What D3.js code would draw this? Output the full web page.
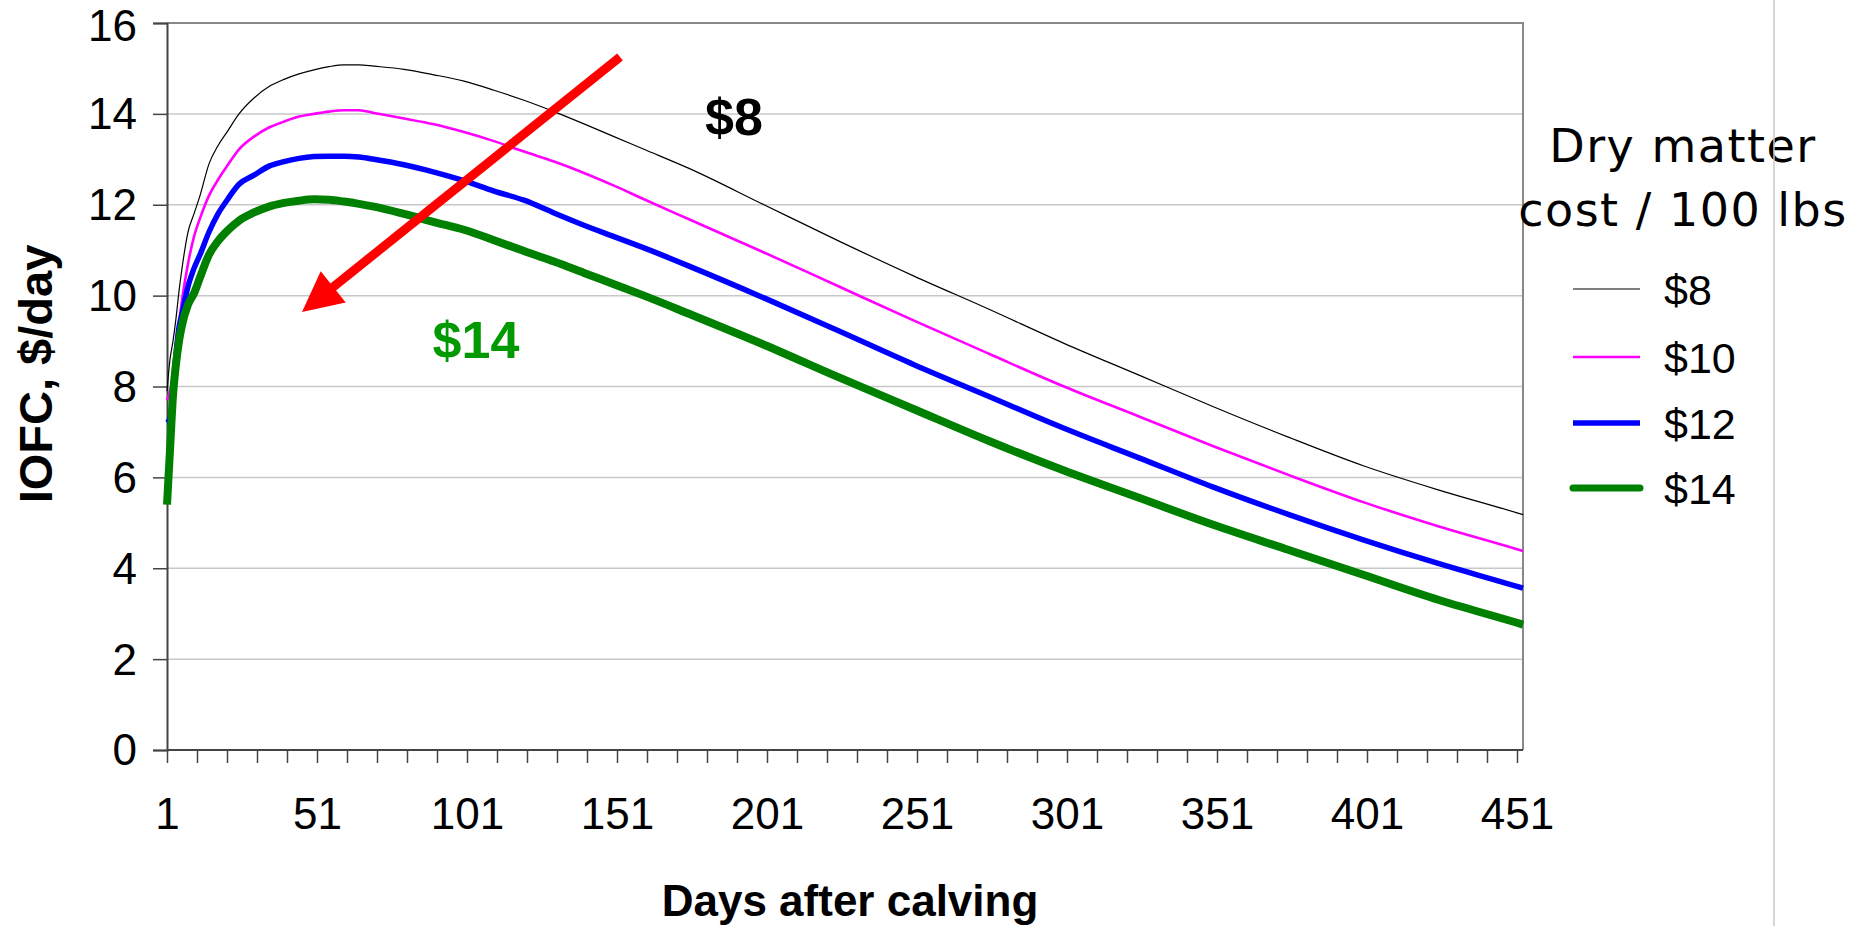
<!DOCTYPE html>
<html>
<head>
<meta charset="utf-8">
<title>IOFC by dry matter cost</title>
<script src="https://cdn.jsdelivr.net/npm/d3@7"></script>
<style>
  html, body { margin: 0; padding: 0; background: #fff; }
  svg { display: block; }
</style>
</head>
<body>
<svg id="chart" width="1852" height="926"></svg>
<script>
const days = [1, 2, 3, 4, 5, 6, 8, 10, 12, 15, 18, 21, 25, 30, 35, 40, 45, 50, 55, 60, 65, 70, 80, 90,
  100, 110, 120, 130, 140, 150, 160, 175, 200, 225, 250, 275, 300, 325, 350, 375, 400, 425, 451, 453];

// IOFC, $/day for each dry matter cost
const iofc8 = [7.9, 8.6, 9.0, 9.5, 10.1, 10.6, 11.4, 11.8, 12.2, 12.9, 13.3, 13.6, 14.0, 14.35, 14.6, 14.76, 14.88, 14.97, 15.04, 15.08, 15.08, 15.05, 14.98, 14.86,
  14.72, 14.52, 14.3, 14.05, 13.78, 13.5, 13.22, 12.8, 12.0, 11.2, 10.43, 9.7, 8.95, 8.25, 7.55, 6.88, 6.25, 5.72, 5.22, 5.18];
const iofc10 = [7.7, 7.9, 8.2, 8.9, 9.4, 9.9, 10.7, 11.3, 11.7, 12.2, 12.55, 12.85, 13.22, 13.5, 13.7, 13.83, 13.94, 14.0, 14.05, 14.08, 14.08, 14.02, 13.9, 13.77,
  13.6, 13.4, 13.17, 12.95, 12.7, 12.42, 12.12, 11.68, 10.95, 10.2, 9.45, 8.72, 8.0, 7.34, 6.68, 6.05, 5.45, 4.92, 4.42, 4.38];
const iofc12 = [7.2, 7.3, 7.8, 8.7, 9.3, 9.6, 10.2, 10.6, 10.9, 11.4, 11.8, 12.1, 12.45, 12.65, 12.85, 12.95, 13.02, 13.06, 13.07, 13.07, 13.05, 13.0, 12.88, 12.72,
  12.53, 12.3, 12.1, 11.82, 11.55, 11.3, 11.05, 10.65, 9.95, 9.22, 8.48, 7.78, 7.08, 6.43, 5.78, 5.18, 4.62, 4.1, 3.6, 3.56];
const iofc14 = [5.4, 6.6, 7.8, 8.5, 9.0, 9.35, 9.8, 10.05, 10.4, 10.9, 11.2, 11.42, 11.65, 11.83, 11.96, 12.04, 12.09, 12.12, 12.11, 12.07, 12.02, 11.96, 11.8, 11.62,
  11.45, 11.22, 10.98, 10.75, 10.5, 10.25, 10.0, 9.6, 8.92, 8.2, 7.5, 6.8, 6.15, 5.55, 4.95, 4.4, 3.85, 3.3, 2.8, 2.76];

const seriesNames = ["$8", "$10", "$12", "$14"];
const yTicks = [0, 2, 4, 6, 8, 10, 12, 14, 16];
const xLabels = [1, 51, 101, 151, 201, 251, 301, 351, 401, 451];
const xMinorTicks = d3.range(1, 452, 10);

const colors = ["#000000", "#ff00ff", "#0000ff", "#008000"];
const widths = [1.2, 2.6, 5.5, 8];

const svg = d3.select("#chart");
const font = "'Liberation Sans', Arial, sans-serif";

// plot frame
const plotLeft = 167, plotRight = 1523, plotTop = 23, plotBottom = 750;

let x = d3.scaleLinear().domain([1, 453]).range([plotLeft, plotRight]);
let y = d3.scaleLinear().domain([0, 16]).range([plotBottom, plotTop]);

// gridlines
svg.append("g")
    .selectAll("line")
    .data(yTicks.filter(d => d > 0 && d < 16))
    .enter().append("line")
    .attr("x1", plotLeft).attr("x2", plotRight)
    .attr("y1", d => y(d)).attr("y2", d => y(d))
    .attr("stroke", "#c8c8c8")
    .attr("stroke-width", 1.5);

// top and right border
svg.append("path")
    .attr("d", `M${plotLeft},${y(16)}H${plotRight}V${plotBottom}`)
    .attr("fill", "none")
    .attr("stroke", "#888")
    .attr("stroke-width", 2);

// y axis
let yAxis = d3.axisLeft(y).tickValues(yTicks).tickSize(14).tickPadding(16);
let gy = svg.append("g").attr("transform", `translate(${plotLeft},0)`).call(yAxis);
gy.select(".domain").attr("stroke", "#444").attr("stroke-width", 2);
gy.selectAll(".tick line").attr("stroke", "#444").attr("stroke-width", 1.5);
gy.selectAll(".tick text")
    .attr("font-family", font).attr("font-size", 44).attr("fill", "#000")
    .attr("dy", d => d == 16 ? "0.4em" : "0.34em");

// x axis: minor ticks every 10 days, labels every 50
let xAxis = d3.axisBottom(x).tickValues(xMinorTicks).tickSize(13)
    .tickFormat(d => xLabels.includes(d) ? d : "").tickPadding(35);
let gx = svg.append("g").attr("transform", `translate(0,${plotBottom})`).call(xAxis);
gx.select(".domain").attr("d", `M${plotLeft},0H${plotRight}`).attr("stroke", "#444").attr("stroke-width", 2);
gx.selectAll(".tick line").attr("stroke", "#444").attr("stroke-width", 1.5);
gx.selectAll(".tick text")
    .attr("font-family", font).attr("font-size", 44).attr("fill", "#000");

// axis titles
svg.append("text")
    .attr("transform", "translate(52,374) rotate(-90)")
    .attr("text-anchor", "middle")
    .attr("font-family", font).attr("font-weight", "bold").attr("font-size", 47)
    .text("IOFC, $/day");

svg.append("text")
    .attr("x", 850).attr("y", 916)
    .attr("text-anchor", "middle")
    .attr("font-family", font).attr("font-weight", "bold").attr("font-size", 44)
    .text("Days after calving");

// curves
const allSeries = [iofc8, iofc10, iofc12, iofc14];
let line = d3.line()
    .x((d, i) => x(days[i]))
    .y(d => y(d))
    .curve(d3.curveMonotoneX);

svg.append("g")
    .selectAll("path")
    .data(allSeries)
    .enter().append("path")
    .attr("d", d => line(d))
    .attr("fill", "none")
    .attr("stroke", (d, i) => colors[i])
    .attr("stroke-width", (d, i) => widths[i])
    .attr("stroke-linejoin", "round");

// red arrow from $8 toward $14, in data units
const arrowFrom = [152, 15.25], arrowTo = [46, 9.64];
let x0 = x(arrowFrom[0]), y0 = y(arrowFrom[1]);
let x1 = x(arrowTo[0]), y1 = y(arrowTo[1]);
let len = Math.hypot(x1 - x0, y1 - y0);
let ux = (x1 - x0) / len, uy = (y1 - y0) / len;
let headLen = 40, headHalf = 20;
let bx = x1 - ux * headLen, by = y1 - uy * headLen;
svg.append("line")
    .attr("x1", x0).attr("y1", y0)
    .attr("x2", bx + ux * 4).attr("y2", by + uy * 4)
    .attr("stroke", "#ff0000")
    .attr("stroke-width", 9);
svg.append("path")
    .attr("d", `M${x1},${y1}L${bx - uy * headHalf},${by + ux * headHalf}L${bx + uy * headHalf},${by - ux * headHalf}Z`)
    .attr("fill", "#ff0000");

// annotations
svg.append("text")
    .attr("x", x(190)).attr("y", y(13.53))
    .attr("text-anchor", "middle")
    .attr("font-family", font).attr("font-weight", "bold").attr("font-size", 52)
    .attr("fill", "#000")
    .text("$8");
svg.append("text")
    .attr("x", x(104)).attr("y", y(8.63))
    .attr("text-anchor", "middle")
    .attr("font-family", font).attr("font-weight", "bold").attr("font-size", 52)
    .attr("fill", "#009900")
    .text("$14");

// legend
const legendFont = "'DejaVu Sans', Verdana, sans-serif";
svg.append("text")
    .attr("x", 1683).attr("y", 162)
    .attr("text-anchor", "middle")
    .attr("font-family", legendFont).attr("font-size", 46)
    .attr("letter-spacing", 1.5)
    .text("Dry matter");
svg.append("text")
    .attr("x", 1683).attr("y", 226)
    .attr("text-anchor", "middle")
    .attr("font-family", legendFont).attr("font-size", 46)
    .attr("letter-spacing", 1.5)
    .text("cost / 100 lbs");

const legendY = [289, 357, 423, 488];
let legend = svg.append("g")
    .selectAll("g")
    .data(seriesNames)
    .enter().append("g")
    .attr("transform", (d, i) => `translate(0,${legendY[i]})`);
legend.append("line")
    .attr("x1", 1573).attr("x2", 1640)
    .attr("stroke", (d, i) => colors[i])
    .attr("stroke-width", (d, i) => Math.min(widths[i], 7))
    .attr("stroke-linecap", (d, i) => i == 3 ? "round" : "butt");
legend.append("text")
    .attr("x", 1664).attr("y", 16)
    .attr("font-family", font).attr("font-size", 43)
    .text(d => d);

// thin separator line on the right
svg.append("line")
    .attr("x1", 1774).attr("x2", 1774)
    .attr("y1", 0).attr("y2", 926)
    .attr("stroke", "#c8c8c8")
    .attr("stroke-width", 1.5);
</script>
</body>
</html>
